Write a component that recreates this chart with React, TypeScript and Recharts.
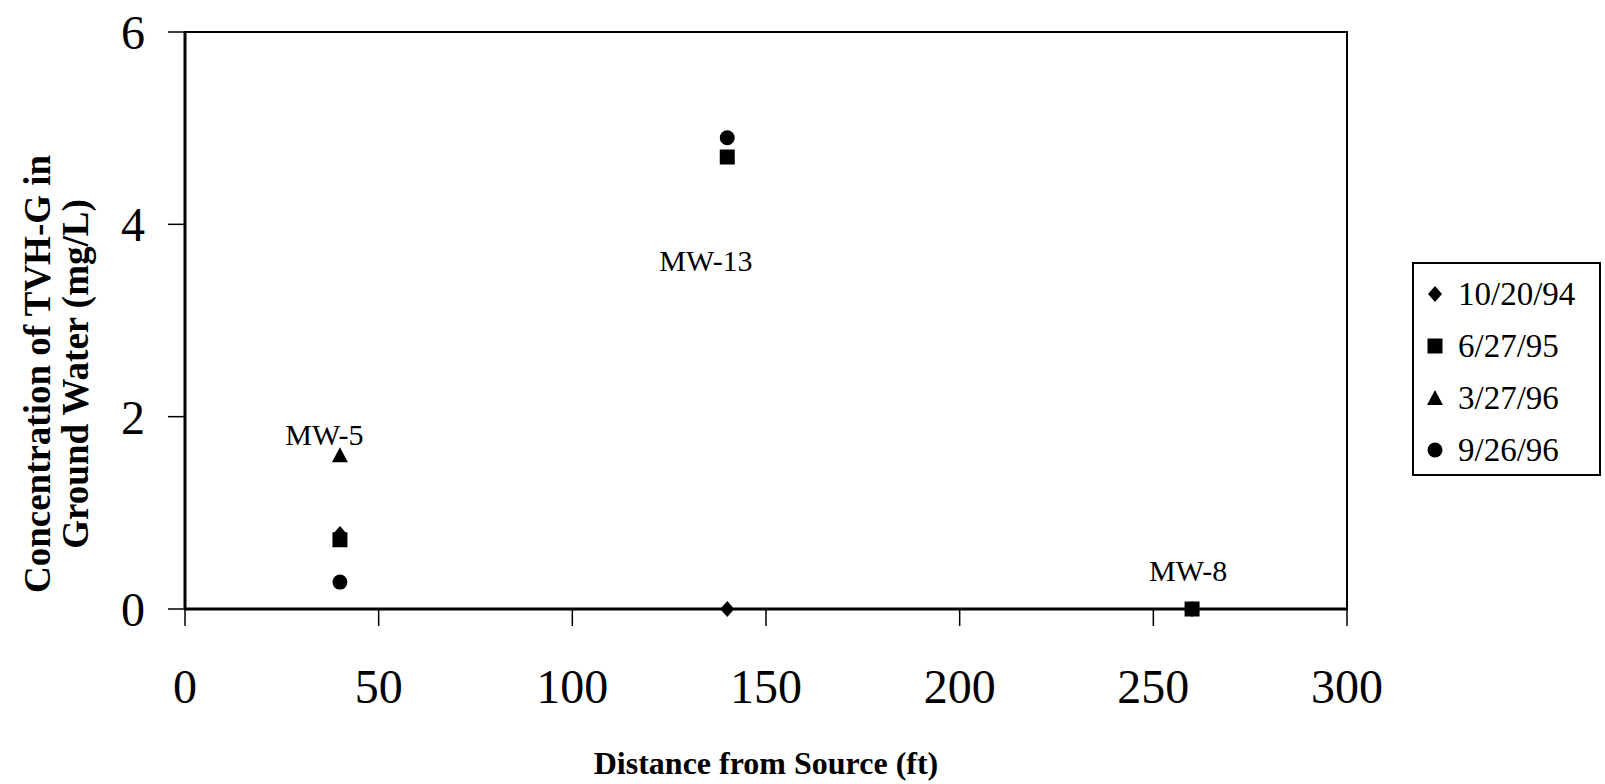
import React from "react";
import {
  ScatterChart,
  Scatter,
  XAxis,
  YAxis,
  ReferenceArea,
  ReferenceDot,
  Legend,
} from "recharts";

const xTicks = [0, 50, 100, 150, 200, 250, 300];
const yTicks = [0, 2, 4, 6];

// sampling dates, one series each
const oct94 = [
  { x: 40, y: 0.78 },
  { x: 140, y: 0 },
  { x: 260, y: 0 },
];
const jun95 = [
  { x: 40, y: 0.72 },
  { x: 140, y: 4.7 },
  { x: 260, y: 0 },
];
const mar96 = [{ x: 40, y: 1.6 }];
const sep96 = [
  { x: 40, y: 0.28 },
  { x: 140, y: 4.9 },
];

const seriesNames = ["10/20/94", "6/27/95", "3/27/96", "9/26/96"];
const seriesKinds = ["diamond", "square", "triangle", "circle"];

// well names, anchored in data units
const wellLabels = [
  { name: "MW-5", x: 36, y: 1.81 },
  { name: "MW-13", x: 134.5, y: 3.62 },
  { name: "MW-8", x: 259, y: 0.4 },
];

const serif = '"Liberation Serif", "Times New Roman", Times, serif';

function Marker({ cx, cy, kind }: { cx: number; cy: number; kind: string }) {
  if (cx == null || cy == null) return null;
  if (kind === "diamond")
    return (
      <polygon
        points={`${cx},${cy - 8} ${cx + 7},${cy} ${cx},${cy + 8} ${cx - 7},${cy}`}
        fill="#000"
      />
    );
  if (kind === "square")
    return <rect x={cx - 7.5} y={cy - 7.5} width={15} height={15} fill="#000" />;
  if (kind === "triangle")
    return (
      <polygon
        points={`${cx},${cy - 8} ${cx + 8},${cy + 7} ${cx - 8},${cy + 7}`}
        fill="#000"
      />
    );
  return <circle cx={cx} cy={cy} r={7.5} fill="#000" />;
}

const LegendBox = () => (
  <div
    style={{
      width: 189,
      height: 214,
      border: "2px solid #000",
      boxSizing: "border-box",
      background: "#fff",
      paddingTop: 4,
    }}
  >
    {seriesNames.map((name, i) => (
      <div
        key={name}
        style={{ display: "flex", alignItems: "center", height: 52 }}
      >
        <svg width={40} height={24} style={{ flex: "none" }}>
          <Marker cx={21} cy={12} kind={seriesKinds[i]} />
        </svg>
        <span
          style={{
            fontFamily: serif,
            fontSize: 33,
            color: "#000",
            marginLeft: 4,
          }}
        >
          {name}
        </span>
      </div>
    ))}
  </div>
);

const YTitle = () => (
  <text
    transform="rotate(-90)"
    textAnchor="middle"
    fontFamily={serif}
    fontWeight="bold"
    fontSize={37}
    fill="#000"
  >
    <tspan x={-374} y={50}>
      Concentration of TVH-G in
    </tspan>
    <tspan x={-374} y={88}>
      Ground Water (mg/L)
    </tspan>
  </text>
);

const XTitle = () => (
  <text
    x={766}
    y={774}
    textAnchor="middle"
    fontFamily={serif}
    fontWeight="bold"
    fontSize={32}
    fill="#000"
  >
    Distance from Source (ft)
  </text>
);

const WellLabel = (name: string) => (props: any) => {
  const { viewBox } = props;
  return (
    <text
      x={viewBox.x + (viewBox.width || 0) / 2}
      y={viewBox.y + (viewBox.height || 0) / 2}
      dy="0.35em"
      textAnchor="middle"
      fontFamily={serif}
      fontSize={30}
      fill="#000"
    >
      {name}
    </text>
  );
};

const series = [oct94, jun95, mar96, sep96];

export default function App() {
  return (
    <div style={{ position: "absolute", left: 0, top: 0, background: "#fff" }}>
      <ScatterChart
        width={1605}
        height={784}
        margin={{ top: 32, right: 258, left: 0, bottom: 0 }}
      >
        <XAxis
          type="number"
          dataKey="x"
          domain={[0, 300]}
          ticks={xTicks}
          interval={0}
          height={175}
          tickSize={17}
          tickMargin={43}
          axisLine={{ stroke: "#000", strokeWidth: 3 }}
          tickLine={{ stroke: "#000", strokeWidth: 1.5 }}
          tick={{ fill: "#000", fontSize: 48, fontFamily: serif }}
          label={{ content: XTitle }}
        />
        <YAxis
          type="number"
          dataKey="y"
          domain={[0, 6]}
          ticks={yTicks}
          interval={0}
          width={185}
          tickSize={17}
          tickMargin={23}
          axisLine={{ stroke: "#000", strokeWidth: 3 }}
          tickLine={{ stroke: "#000", strokeWidth: 1.5 }}
          tick={{ fill: "#000", fontSize: 48, fontFamily: serif }}
          label={{ content: YTitle }}
        />
        <ReferenceArea
          x1={0}
          x2={300}
          y1={0}
          y2={6}
          fill="none"
          stroke="#000"
          strokeWidth={2}
          ifOverflow="visible"
        />
        {wellLabels.map((w) => (
          <ReferenceDot
            key={w.name}
            x={w.x}
            y={w.y}
            r={0}
            stroke="none"
            fill="none"
            ifOverflow="visible"
            label={{ content: WellLabel(w.name) }}
          />
        ))}
        {series.map((data, i) => (
          <Scatter
            key={seriesNames[i]}
            name={seriesNames[i]}
            data={data}
            fill="#000"
            isAnimationActive={false}
            shape={(p: any) => <Marker cx={p.cx} cy={p.cy} kind={seriesKinds[i]} />}
          />
        ))}
        <Legend
          layout="vertical"
          align="center"
          verticalAlign="middle"
          content={LegendBox}
          wrapperStyle={{ left: 1412, top: 262, width: 189, height: 214 }}
        />
      </ScatterChart>
    </div>
  );
}
